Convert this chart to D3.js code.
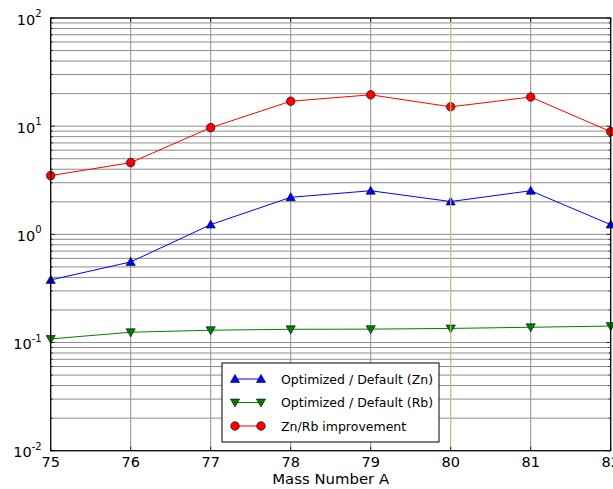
<html>
<head>
<meta charset="utf-8">
<script src="https://d3js.org/d3.v7.min.js"></script>
<style>
  body { margin: 0; background: #fff; }
  text { font-family: "DejaVu Sans", sans-serif; }
</style>
</head>
<body>
<div id="chart"></div>
<script>
// values
var massNumbers = [75, 76, 77, 78, 79, 80, 81, 82];
var znRatio = [0.379, 0.556, 1.23, 2.20, 2.53, 2.01, 2.53, 1.23];
var rbRatio = [0.108, 0.1245, 0.130, 0.1325, 0.133, 0.135, 0.1384, 0.142];
var improvement = [3.49, 4.60, 9.69, 17.0, 19.5, 15.1, 18.6, 8.9];
var decadeTicks = [1e-2, 1e-1, 1e0, 1e1, 1e2];
var seriesNames = ["Optimized / Default (Zn)", "Optimized / Default (Rb)", "Zn/Rb improvement"];

(function() {
    var width = 613, height = 489;
    var left = 50.7, right = 610.7, top = 18, bottom = 450.7;

    var svg = d3.select("#chart").append("svg")
        .attr("width", width)
        .attr("height", height);

    var x = d3.scaleLinear().domain([75, 82]).range([left, right]);
    var y = d3.scaleLog().domain([1e-2, 1e2]).range([bottom, top]);

    // minor ticks 2..9 in each decade
    var minorTicks = [];
    for (var e = -2; e < 2; e++) {
        for (var m = 2; m <= 9; m++) minorTicks.push(m * Math.pow(10, e));
    }

    var grid = svg.append("g");
    // horizontal grid (major + minor)
    grid.selectAll(".hgrid")
        .data(decadeTicks.concat(minorTicks))
        .enter().append("line")
        .attr("x1", left).attr("x2", right)
        .attr("y1", d => y(d)).attr("y2", d => y(d))
        .attr("stroke", "#8c8c8c")
        .attr("stroke-width", 1);
    // vertical grid
    grid.selectAll(".vgrid")
        .data(massNumbers.filter(d => d != 80))
        .enter().append("line")
        .attr("x1", d => x(d)).attr("x2", d => x(d))
        .attr("y1", top).attr("y2", bottom)
        .attr("stroke", "#8c8c8c")
        .attr("stroke-width", 1);

    var series = [
        { name: seriesNames[0], values: znRatio, color: "blue", marker: "up" },
        { name: seriesNames[1], values: rbRatio, color: "green", marker: "down" },
        { name: seriesNames[2], values: improvement, color: "red", marker: "circle" }
    ];

    var line = d3.line()
        .x((d, i) => x(massNumbers[i]))
        .y(d => y(d));

    function drawMarker(g, type, color) {
        if (type == "circle") {
            g.append("circle").attr("r", 4.3)
                .attr("fill", color).attr("stroke", "#000").attr("stroke-width", 0.6);
        } else {
            var s = 4.6;
            var pts = type == "up"
                ? [[0, -s], [s, s * 0.75], [-s, s * 0.75]]
                : [[0, s], [s, -s * 0.75], [-s, -s * 0.75]];
            g.append("path")
                .attr("d", "M" + pts.join("L") + "Z")
                .attr("fill", color).attr("stroke", "#000").attr("stroke-width", 0.6);
        }
    }

    var plot = svg.append("g");
    series.forEach(function(s) {
        plot.append("path")
            .datum(s.values)
            .attr("d", line)
            .attr("fill", "none")
            .attr("stroke", s.color)
            .attr("stroke-width", 1);
        s.values.forEach(function(v, i) {
            var g = plot.append("g")
                .attr("transform", "translate(" + x(massNumbers[i]) + "," + y(v) + ")");
            drawMarker(g, s.marker, s.color);
        });
    });

    // marker line at A = 80
    svg.append("line")
        .attr("x1", x(80)).attr("x2", x(80))
        .attr("y1", top).attr("y2", bottom)
        .attr("stroke", "#c4bc66")
        .attr("stroke-width", 1.2);

    // frame
    svg.append("rect")
        .attr("x", left).attr("y", top)
        .attr("width", right - left).attr("height", bottom - top)
        .attr("fill", "none").attr("stroke", "#000").attr("stroke-width", 1.2);

    // inward ticks on all sides
    var ticks = svg.append("g").attr("stroke", "#000").attr("stroke-width", 0.8);
    massNumbers.forEach(function(d) {
        ticks.append("line").attr("x1", x(d)).attr("x2", x(d)).attr("y1", bottom).attr("y2", bottom - 4);
        ticks.append("line").attr("x1", x(d)).attr("x2", x(d)).attr("y1", top).attr("y2", top + 4);
    });
    decadeTicks.forEach(function(d) {
        ticks.append("line").attr("x1", left).attr("x2", left + 4).attr("y1", y(d)).attr("y2", y(d));
        ticks.append("line").attr("x1", right).attr("x2", right - 4).attr("y1", y(d)).attr("y2", y(d));
    });
    minorTicks.forEach(function(d) {
        ticks.append("line").attr("x1", left).attr("x2", left + 2).attr("y1", y(d)).attr("y2", y(d));
        ticks.append("line").attr("x1", right).attr("x2", right - 2).attr("y1", y(d)).attr("y2", y(d));
    });

    // x tick labels
    svg.selectAll(".xlab")
        .data(massNumbers)
        .enter().append("text")
        .attr("x", d => x(d))
        .attr("y", bottom + 16.5)
        .attr("text-anchor", "middle")
        .attr("font-size", 14.5)
        .text(d => d);

    // y tick labels as 10^n
    var ylab = svg.selectAll(".ylab")
        .data(decadeTicks)
        .enter().append("text")
        .attr("x", left - 9)
        .attr("y", d => y(d) + 6.5)
        .attr("text-anchor", "end")
        .attr("font-size", 14.5);
    ylab.append("tspan").text("10");
    ylab.append("tspan")
        .attr("dy", -7.5)
        .attr("font-size", 10)
        .text(d => Math.round(Math.log10(d)));

    svg.append("text")
        .attr("x", (left + right) / 2)
        .attr("y", 484)
        .attr("text-anchor", "middle")
        .attr("font-size", 14.9)
        .text("Mass Number A");

    // legend
    var lg = svg.append("g").attr("transform", "translate(222,363)");
    lg.append("rect")
        .attr("width", 217).attr("height", 79)
        .attr("fill", "#fff").attr("stroke", "#000").attr("stroke-width", 1);
    series.forEach(function(s, i) {
        var ly = 16 + i * 23.5;
        lg.append("line")
            .attr("x1", 13).attr("x2", 39)
            .attr("y1", ly).attr("y2", ly)
            .attr("stroke", s.color).attr("stroke-width", 1);
        drawMarker(lg.append("g").attr("transform", "translate(13," + ly + ")"), s.marker, s.color);
        drawMarker(lg.append("g").attr("transform", "translate(39," + ly + ")"), s.marker, s.color);
        lg.append("text")
            .attr("x", 59).attr("y", ly + 4.5)
            .attr("font-size", 12.5)
            .text(s.name);
    });
})();
</script>
</body>
</html>
